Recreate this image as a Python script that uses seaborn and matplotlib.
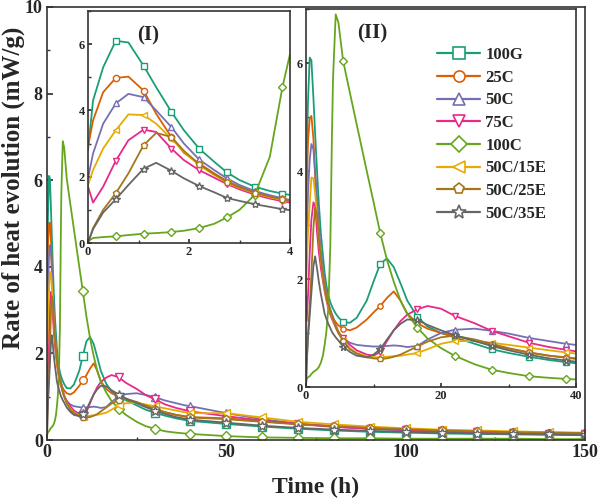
import matplotlib
matplotlib.use("Agg")
import matplotlib.pyplot as plt
from matplotlib.lines import Line2D
from matplotlib.ticker import MultipleLocator
import seaborn as sns

# time grid (h), dense at start where the peaks are
hours = [0, 0.1, 0.3, 0.55, 0.8, 1.1, 1.35, 1.65, 1.9, 2.2, 2.5, 2.75, 3.0, 3.3, 3.6, 3.85, 4.0,
         4.4, 4.8, 5.5, 6.5, 7.5, 9, 10, 11, 12, 13, 14, 15, 16.5, 18, 20, 22, 25, 27.5, 30, 33, 36, 38.5, 40,
         50, 60, 70, 80, 90, 100, 110, 120, 130, 140, 150]

# rate of heat evolution (mW/g)
g100 = [2.8, 4.3, 5.3, 6.1, 6.05, 5.35, 4.7, 3.96, 3.4, 2.85, 2.45, 2.13, 1.9, 1.7, 1.57, 1.49, 1.45,
        1.36, 1.29, 1.2, 1.19, 1.28, 1.6, 1.95, 2.28, 2.38, 2.22, 1.92, 1.6, 1.3, 1.12, 1.0, 0.92, 0.8, 0.7, 0.63, 0.56, 0.5, 0.46, 0.44,
        0.37, 0.31, 0.26, 0.22, 0.19, 0.17, 0.15, 0.14, 0.13, 0.12, 0.11]
c25 = [2.9, 3.7, 4.55, 4.98, 5.02, 4.6, 3.9, 3.2, 2.72, 2.4, 2.1, 1.87, 1.7, 1.53, 1.4, 1.32, 1.28,
       1.2, 1.14, 1.08, 1.05, 1.1, 1.25, 1.38, 1.5, 1.65, 1.77, 1.6, 1.36, 1.18, 1.08, 1.0, 0.95, 0.86, 0.78, 0.71, 0.64, 0.58, 0.55, 0.53,
       0.5, 0.43, 0.37, 0.32, 0.28, 0.25, 0.22, 0.2, 0.18, 0.17, 0.16]
c50 = [1.95, 2.7, 3.6, 4.21, 4.5, 4.4, 4.0, 3.5, 3.0, 2.52, 2.2, 1.95, 1.75, 1.57, 1.44, 1.35, 1.3,
       1.15, 1.03, 0.9, 0.82, 0.78, 0.76, 0.75, 0.75, 0.76, 0.77, 0.76, 0.74, 0.76, 0.88, 1.0, 1.06, 1.08, 1.04, 0.99, 0.91, 0.85, 0.8, 0.78,
       0.62, 0.48, 0.38, 0.31, 0.26, 0.22, 0.19, 0.17, 0.15, 0.14, 0.13]
c75 = [1.7, 1.22, 1.7, 2.48, 3.1, 3.42, 3.35, 2.85, 2.5, 2.2, 1.97, 1.78, 1.62, 1.46, 1.34, 1.26, 1.22,
       1.1, 1.0, 0.9, 0.78, 0.68, 0.6, 0.58, 0.65, 0.85, 1.05, 1.22, 1.34, 1.44, 1.5, 1.45, 1.32, 1.18, 1.04, 0.94, 0.82, 0.74, 0.69, 0.66,
       0.55, 0.45, 0.37, 0.3, 0.26, 0.23, 0.2, 0.18, 0.16, 0.15, 0.14]
c100 = [0.05, 0.15, 0.18, 0.2, 0.24, 0.28, 0.3, 0.33, 0.37, 0.45, 0.58, 0.77, 1.0, 1.45, 2.6, 4.7, 5.7,
        6.9, 6.75, 6.04, 5.45, 4.87, 4.0, 3.43, 2.85, 2.35, 1.95, 1.6, 1.35, 1.1, 0.9, 0.72, 0.58, 0.42, 0.32, 0.26, 0.2, 0.17, 0.15, 0.14,
        0.09, 0.06, 0.05, 0.04, 0.04, 0.03, 0.03, 0.03, 0.03, 0.02, 0.02]
e15 = [1.75, 2.2, 2.85, 3.4, 3.88, 3.86, 3.6, 3.15, 2.75, 2.35, 2.05, 1.83, 1.66, 1.5, 1.38, 1.3, 1.26,
       1.12, 1.0, 0.86, 0.72, 0.63, 0.57, 0.55, 0.55, 0.56, 0.57, 0.58, 0.6, 0.63, 0.7, 0.8, 0.85, 0.85, 0.82, 0.78, 0.73, 0.68, 0.64, 0.62,
       0.62, 0.52, 0.42, 0.36, 0.31, 0.27, 0.24, 0.22, 0.2, 0.18, 0.17]
e25 = [0.0, 0.45, 1.0, 1.5, 2.1, 2.95, 3.32, 3.2, 2.78, 2.38, 2.08, 1.85, 1.68, 1.52, 1.4, 1.32, 1.27,
       1.12, 1.0, 0.85, 0.7, 0.62, 0.55, 0.53, 0.52, 0.53, 0.56, 0.6, 0.66, 0.75, 0.84, 0.92, 0.95, 0.88, 0.8, 0.72, 0.64, 0.58, 0.54, 0.52,
       0.48, 0.42, 0.36, 0.32, 0.28, 0.25, 0.22, 0.2, 0.18, 0.17, 0.16]
e35 = [0.0, 0.42, 0.92, 1.32, 1.75, 2.24, 2.42, 2.18, 1.95, 1.72, 1.53, 1.36, 1.27, 1.17, 1.09, 1.02, 0.99,
       0.92, 0.86, 0.75, 0.65, 0.58, 0.55, 0.6, 0.7, 0.88, 1.05, 1.17, 1.25, 1.24, 1.15, 1.05, 0.96, 0.85, 0.76, 0.68, 0.6, 0.53, 0.49, 0.47,
       0.4, 0.33, 0.28, 0.24, 0.21, 0.19, 0.17, 0.15, 0.14, 0.13, 0.12]

names = ["100G", "25C", "50C", "75C", "100C", "50C/15E", "50C/25E", "50C/35E"]
series = [g100, c25, c50, c75, c100, e15, e25, e35]
markers = ["s", "o", "^", "v", "D", "<", "p", "*"]

# where the symbols sit in each panel
main_marks = [10, 20, 30, 40, 50, 60, 70, 80, 90, 100, 110, 120, 130, 140, 150]
inset1_marks = [0.55, 1.1, 1.65, 2.2, 2.75, 3.3, 3.85]
inset2_marks = [5.5, 11, 16.5, 22, 27.5, 33, 38.5]

sns.set_theme(style="ticks")
plt.rcParams["font.family"] = ["Liberation Serif", "DejaVu Serif"]
plt.rcParams["font.weight"] = "bold"
plt.rcParams["axes.linewidth"] = 1.2
plt.rcParams["axes.edgecolor"] = "#333333"
colors = sns.color_palette("Dark2", 8)

fig = plt.figure(figsize=(6, 4.98), dpi=100)
ax = fig.add_axes([47/600, 1-440/498, 538/600, 433/498])
ax1 = fig.add_axes([88/600, 1-243/498, 202/600, 232/498])
ax2 = fig.add_axes([306/600, 1-387/498, 270/600, 378/498])

panels = [(ax, main_marks, 5.5), (ax1, inset1_marks, 4.5), (ax2, inset2_marks, 3.8)]
for axis, mk_t, ms in panels:
    idx = [hours.index(x) for x in mk_t]
    for vals, col, mk in zip(series, colors, markers):
        sns.lineplot(x=hours, y=vals, ax=axis, color=col, marker=mk, markevery=idx,
                     markersize=ms if mk != "*" else ms + 1.5, markerfacecolor="white",
                     markeredgecolor=col, markeredgewidth=1.0, linewidth=1.3,
                     errorbar=None, legend=False)
    axis.set_xlabel("")
    axis.set_ylabel("")
    axis.tick_params(which="both", direction="in", color="#333333")

ax.set_xlim(0, 150)
ax.set_ylim(0, 10)
ax.xaxis.set_major_locator(MultipleLocator(50))
ax.xaxis.set_minor_locator(MultipleLocator(25))
ax.yaxis.set_major_locator(MultipleLocator(2))
ax.yaxis.set_minor_locator(MultipleLocator(1))
ax.tick_params(which="major", length=4, labelsize=13, pad=3)
ax.tick_params(which="minor", length=2.5)

ax1.set_xlim(0, 4)
ax1.set_ylim(0, 7)
ax1.xaxis.set_major_locator(MultipleLocator(2))
ax1.xaxis.set_minor_locator(MultipleLocator(1))
ax1.yaxis.set_major_locator(MultipleLocator(2))
ax1.yaxis.set_minor_locator(MultipleLocator(1))
ax1.tick_params(which="major", length=3, labelsize=9, pad=2)
ax1.tick_params(which="minor", length=2)

ax2.set_xlim(0, 40)
ax2.set_ylim(0, 7)
ax2.xaxis.set_major_locator(MultipleLocator(20))
ax2.xaxis.set_minor_locator(MultipleLocator(10))
ax2.yaxis.set_major_locator(MultipleLocator(2))
ax2.yaxis.set_minor_locator(MultipleLocator(1))
ax2.tick_params(which="major", length=3, labelsize=9, pad=2)
ax2.tick_params(which="minor", length=2)

handles = [Line2D([0], [0], color=c, marker=m, markersize=8 if m != "*" else 10,
                  markerfacecolor="white", markeredgecolor=c, markeredgewidth=1.2, linewidth=1.6)
           for c, m in zip(colors, markers)]
fig.legend(handles, names, loc="upper left", bbox_to_anchor=(437/600, 1-47/498),
           bbox_transform=fig.transFigure, frameon=False, fontsize=12,
           handlelength=2.6, handletextpad=0.3, labelspacing=0.4,
           borderpad=0, borderaxespad=0)

fig.text(148/600, 1-35/498, "(I)", ha="center", va="center", fontsize=15, fontweight="bold")
fig.text(372/600, 1-33/498, "(II)", ha="center", va="center", fontsize=15, fontweight="bold")
fig.text(13/600, 1-188/498, "Rate of heat evolution (mW/g)", rotation=90,
         ha="center", va="center", fontsize=18, fontweight="bold")
fig.text(316/600, 1-487/498, "Time (h)", ha="center", va="center", fontsize=17, fontweight="bold")

fig.savefig("out.png", dpi=100)
